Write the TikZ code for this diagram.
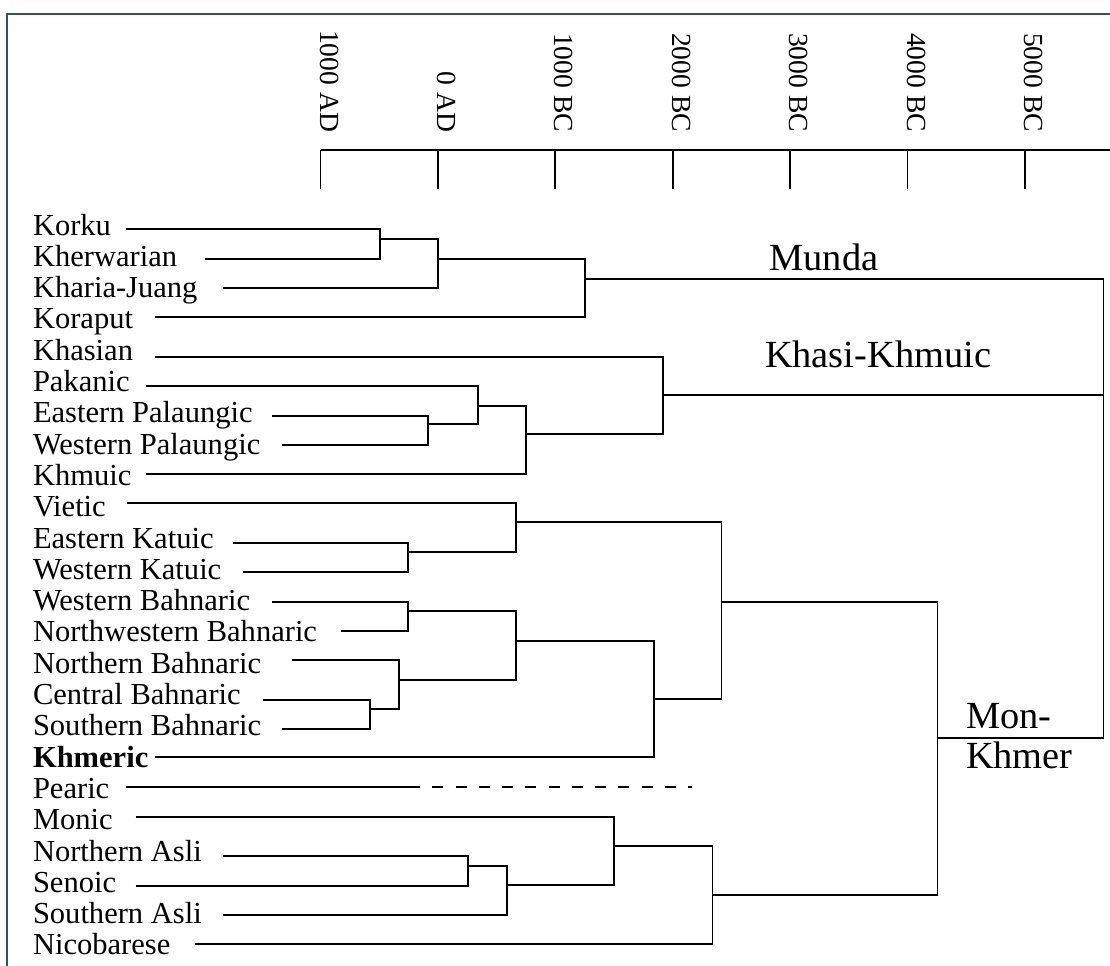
\documentclass[tikz,border=0pt]{standalone}
\usepackage{fontspec}
\setmainfont{Liberation Serif}
\definecolor{framecol}{HTML}{34515F}
\newcommand{\leafnode}[5]{% name, text, row, line y, start x
  \pgfmathsetmacro{\leafby}{235+31.3*#3}
  \node[leaf] (#1) at (33,\leafby) {#2};
  \pgfmathsetmacro{\leafdx}{#5-33}
  \pgfmathsetmacro{\leafdy}{#4-\leafby}
  \coordinate (#1-s) at ([shift={(\leafdx,\leafdy)}]#1.base west);
}
\begin{document}
\begin{tikzpicture}[x=0.75pt,y=-0.75pt,
  tree/.style={line width=1.35pt, draw=black},
  leaf/.style={anchor=base west, inner sep=0pt, outer sep=0pt, font=\fontsize{22.9}{26}\selectfont},
  clade/.style={inner sep=0pt, outer sep=0pt, align=left, font=\fontsize{28.8}{30}\selectfont},
  yearlab/.style={rotate=-90, anchor=base east, inner sep=0pt, outer sep=0pt, font=\fontsize{20.7}{24}\selectfont},
  framelines/.style={line width=1.6pt, draw=framecol}]
\useasboundingbox (0,0) rectangle (1110,965);
% frame
\coordinate (fTL) at (7,14);
\coordinate (fTR) at (1112,14);
\coordinate (fBL) at (7,967);
\draw[framelines] (fTR) -- (fTL) -- (fBL);
% time axis
\coordinate (axL) at (320.5,150);
\coordinate (axR) at (1112,150);
\draw[tree] (axL) -- (axR);
\foreach \i/\lab in {0/1000 AD,1/0 AD,2/1000 BC,3/2000 BC,4/3000 BC,5/4000 BC,6/5000 BC}{
  \pgfmathsetmacro{\tx}{320.5+117.4*\i}
  \coordinate (tick\i) at (\tx,150);
  \coordinate (tickb\i) at (\tx,189);
  \draw[tree] (tick\i) -- (tickb\i);
  \node[yearlab] (year\i) at (\tx-0.5,132) {\lab};
}
% leaves
\leafnode{korku}{Korku}{0}{229.3}{125.5}
\leafnode{kherwarian}{Kherwarian}{1}{258.7}{204.7}
\leafnode{kharia}{Kharia-Juang}{2}{288.3}{223}
\leafnode{koraput}{Koraput}{3}{317.3}{155}
\leafnode{khasian}{Khasian}{4}{356.7}{155}
\leafnode{pakanic}{Pakanic}{5}{385.7}{146}
\leafnode{epal}{Eastern Palaungic}{6}{415.7}{272}
\leafnode{wpal}{Western Palaungic}{7}{445}{282}
\leafnode{khmuic}{Khmuic}{8}{474}{146}
\leafnode{vietic}{Vietic}{9}{503.3}{127}
\leafnode{ekat}{Eastern Katuic}{10}{542.7}{233}
\leafnode{wkat}{Western Katuic}{11}{571.7}{243}
\leafnode{wbah}{Western Bahnaric}{12}{601.7}{272}
\leafnode{nwbah}{Northwestern Bahnaric}{13}{630.7}{341}
\leafnode{nbah}{Northern Bahnaric}{14}{660}{292}
\leafnode{cbah}{Central Bahnaric}{15}{700.3}{262.5}
\leafnode{sbah}{Southern Bahnaric}{16}{728.7}{282}
\leafnode{khmeric}{\textbf{Khmeric}}{17}{757.3}{155.4}
\leafnode{pearic}{Pearic}{18}{787}{125.7}
\leafnode{monic}{Monic}{19}{816.7}{135.7}
\leafnode{nasli}{Northern Asli}{20}{856}{223}
\leafnode{senoic}{Senoic}{21}{885.7}{135.7}
\leafnode{sasli}{Southern Asli}{22}{915}{223}
\leafnode{nicob}{Nicobarese}{23}{944.3}{194.6}
% joints
\coordinate (jKK) at (380,239);
\coordinate (jKKK) at (438.3,258.7);
\coordinate (jMunda) at (585,278.7);
\coordinate (jPal) at (428,424.3);
\coordinate (jPak) at (478,405.7);
\coordinate (jKhm) at (526,434.3);
\coordinate (jKhasi) at (662.8,395);
\coordinate (jKat) at (408,552.3);
\coordinate (jViet) at (516,522.3);
\coordinate (jWB) at (408,611);
\coordinate (jCB) at (369.6,709.3);
\coordinate (jNB) at (398.6,680);
\coordinate (jBah) at (516,640.7);
\coordinate (jKhmer) at (653.6,699.3);
\coordinate (jVK) at (721.4,601.7);
\coordinate (jNA) at (468,866.3);
\coordinate (jAsli) at (507,885);
\coordinate (jMonic) at (614.3,846);
\coordinate (jNic) at (712.5,895);
\coordinate (jMK) at (937.5,738.3);
\coordinate (root) at (1103.5,395);
\coordinate (pearicSolid) at (420,787);
\coordinate (pearicDash) at (432.3,787);
\coordinate (pearicEnd) at (692,787);
% Munda
\draw[tree] (korku-s) -| (jKK);
\draw[tree] (kherwarian-s) -| (jKK);
\draw[tree] (jKK) -| (jKKK);
\draw[tree] (kharia-s) -| (jKKK);
\draw[tree] (jKKK) -| (jMunda);
\draw[tree] (koraput-s) -| (jMunda);
\draw[tree] (jMunda) -| (root);
% Khasi-Khmuic
\draw[tree] (epal-s) -| (jPal);
\draw[tree] (wpal-s) -| (jPal);
\draw[tree] (pakanic-s) -| (jPak);
\draw[tree] (jPal) -| (jPak);
\draw[tree] (jPak) -| (jKhm);
\draw[tree] (khmuic-s) -| (jKhm);
\draw[tree] (jKhm) -| (jKhasi);
\draw[tree] (khasian-s) -| (jKhasi);
\draw[tree] (jKhasi) -- (root);
% Vietic, Katuic, Bahnaric, Khmeric
\draw[tree] (ekat-s) -| (jKat);
\draw[tree] (wkat-s) -| (jKat);
\draw[tree] (vietic-s) -| (jViet);
\draw[tree] (jKat) -| (jViet);
\draw[tree] (wbah-s) -| (jWB);
\draw[tree] (nwbah-s) -| (jWB);
\draw[tree] (cbah-s) -| (jCB);
\draw[tree] (sbah-s) -| (jCB);
\draw[tree] (nbah-s) -| (jNB);
\draw[tree] (jCB) -| (jNB);
\draw[tree] (jWB) -| (jBah);
\draw[tree] (jNB) -| (jBah);
\draw[tree] (jBah) -| (jKhmer);
\draw[tree] (khmeric-s) -| (jKhmer);
\draw[tree] (jViet) -| (jVK);
\draw[tree] (jKhmer) -| (jVK);
% Pearic
\draw[tree] (pearic-s) -- (pearicSolid);
\draw[tree, dash pattern=on 8.25pt off 9.2pt] (pearicDash) -- (pearicEnd);
% Monic, Aslian, Nicobarese
\draw[tree] (nasli-s) -| (jNA);
\draw[tree] (senoic-s) -| (jNA);
\draw[tree] (jNA) -| (jAsli);
\draw[tree] (sasli-s) -| (jAsli);
\draw[tree] (monic-s) -| (jMonic);
\draw[tree] (jAsli) -| (jMonic);
\draw[tree] (jMonic) -| (jNic);
\draw[tree] (nicob-s) -| (jNic);
\draw[tree] (jVK) -| (jMK);
\draw[tree] (jNic) -| (jMK);
\draw[tree] (jMK) -| (root);
% clade labels
\node[clade, anchor=base west] (munda) at (769.5,270) {Munda};
\node[clade, anchor=base west] (khasikhmuic) at (765,367) {Khasi-Khmuic};
\node[clade, anchor=north west] (monkhmer) at (966,703) {Mon-\\Khmer};
\end{tikzpicture}
\end{document}
